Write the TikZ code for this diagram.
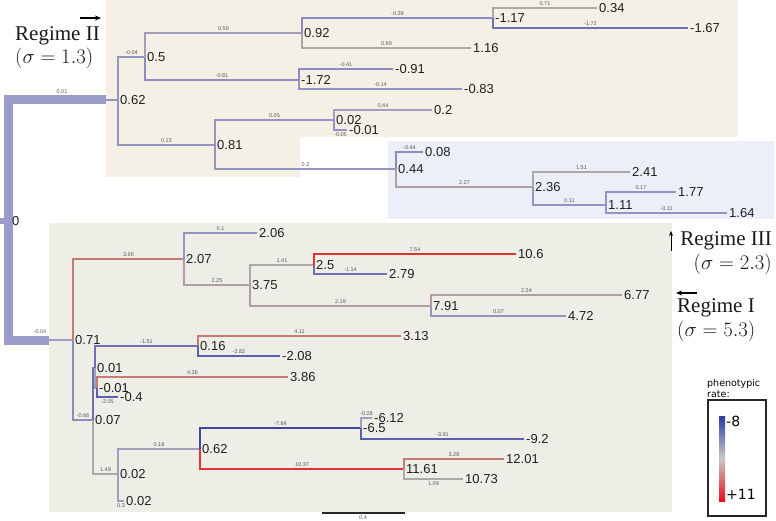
\documentclass[tikz,border=0pt]{standalone}
\usepackage[no-math]{fontspec}
\setmainfont{Liberation Sans}
\newfontfamily\regfont{Liberation Serif}
\newfontfamily\legfont{DejaVu Sans}
\usetikzlibrary{arrows.meta}
\definecolor{bgII}{HTML}{F4F0E6}
\definecolor{bgIII}{HTML}{ECEFF8}
\definecolor{bgI}{HTML}{EEEEE6}
\definecolor{rootc}{HTML}{9C9CCA}
\definecolor{dblue}{HTML}{3E48A0}
\definecolor{mblue}{HTML}{5A60AE}
\definecolor{blue2}{HTML}{6E70B6}
\definecolor{lav}{HTML}{8C8CC0}
\definecolor{lav2}{HTML}{9494C2}
\definecolor{lavg}{HTML}{A09EBE}
\definecolor{greyc}{HTML}{AAA8A9}
\definecolor{rgrey}{HTML}{B29E9E}
\definecolor{rosy}{HTML}{C27C74}
\definecolor{redc}{HTML}{DE3530}
\definecolor{cbblue}{HTML}{2B3DA0}
\definecolor{cbgrey}{HTML}{C8C8C8}
\definecolor{cbred}{HTML}{E8101E}
\tikzset{
  br/.style={line width=2.8pt, line cap=butt, line join=miter},
  elbase/.style={font=\fontsize{5.5}{6}\selectfont, text=black!65, inner sep=0.8pt},
  el/.style={elbase, pos=0.75},
  nl/.style={font=\fontsize{13}{13}\selectfont, text=black!88, anchor=west, inner sep=0pt},
  reg/.style={font=\regfont\fontsize{21}{21}\selectfont, text=black!90, inner sep=0pt},
  regarrow/.style={-{Stealth[length=6pt,width=5pt]}, line width=1.8pt},
}
\newcommand\edge[5]{\draw[br,#3] (#1) |- node[el,#5]{#4} (#2);}
\begin{document}
\begin{tikzpicture}[x=1pt,y=-1pt]
\useasboundingbox (0,0) rectangle (776,521);
% regime backgrounds
\fill[bgII] (106,0) -- (738,0) -- (738,137) -- (300,137) -- (300,177) -- (106,177) -- cycle;
\fill[bgIII] (388,141) rectangle (774,219);
\fill[bgI] (49,223) rectangle (672,512);
% coordinates
\coordinate (root) at (8.5,221);
\coordinate (rtA) at (106,100);
\coordinate (rtB) at (49,340);
\coordinate (a062) at (118,100);
\coordinate (a05) at (145,57);
\coordinate (a092) at (302,33);
\coordinate (a117) at (493,18);
\coordinate (L034) at (597,8);
\coordinate (L167) at (688,28);
\coordinate (L116) at (471,48);
\coordinate (a172) at (299,80);
\coordinate (L091) at (393,69);
\coordinate (L083) at (462,89);
\coordinate (a081) at (215,145);
\coordinate (a002) at (334,120);
\coordinate (L02) at (432,110);
\coordinate (L001) at (347,130);
\coordinate (a044) at (396,169);
\coordinate (L008) at (423,152);
\coordinate (a236) at (533,187);
\coordinate (L241) at (630,172);
\coordinate (a111) at (606,205);
\coordinate (L177) at (676,192);
\coordinate (L164) at (727,213);
\coordinate (b071) at (73,340);
\coordinate (b207) at (184,259);
\coordinate (L206) at (257,233);
\coordinate (b375) at (250,285);
\coordinate (b25) at (314,265);
\coordinate (L106) at (516,254);
\coordinate (L279) at (387,274);
\coordinate (b791) at (431,306);
\coordinate (L677) at (622,295);
\coordinate (L472) at (566,316);
\coordinate (b007) at (93,420);
\coordinate (b001) at (95,368);
\coordinate (b016) at (198,346);
\coordinate (L313) at (401,336);
\coordinate (L208) at (280,356);
\coordinate (bm001) at (97,388);
\coordinate (L386) at (288,377);
\coordinate (L04) at (118,397);
\coordinate (b002) at (118,474);
\coordinate (b062) at (200,449);
\coordinate (b65) at (361,428);
\coordinate (L612) at (372,418);
\coordinate (L92) at (524,439);
\coordinate (b1161) at (404,469);
\coordinate (L1201) at (504,459);
\coordinate (L1073) at (463,479);
\coordinate (L002) at (124,501);
% root
\draw[line width=6pt, rootc] (0,221) -- (root);
\draw[line width=9pt, rootc, line join=miter] (rtA) -- (root |- rtA) -- (root |- rtB) -- (rtB);
\draw[br, lav2] (rtA) -- (a062);
\draw[br, lavg] (rtB) -- (b071);
\node[elbase, anchor=south] at (62,95) {0.01};
\node[elbase, anchor=south] at (40,335) {-0.04};
% top clade
\edge{a062}{a05}{lav2}{-0.04}{above}
\edge{a05}{a092}{lavg}{0.59}{above}
\edge{a092}{a117}{lav}{-0.39}{above}
\edge{a117}{L034}{greyc}{0.71}{above}
\edge{a117}{L167}{blue2}{-1.72}{above}
\edge{a092}{L116}{greyc}{0.99}{above}
\edge{a05}{a172}{lav}{-0.81}{above}
\edge{a172}{L091}{lav}{-0.41}{above}
\edge{a172}{L083}{lav2}{-0.14}{above}
\edge{a062}{a081}{lav2}{0.15}{above}
\edge{a081}{a002}{lav2}{0.05}{above}
\edge{a002}{L02}{lavg}{0.44}{above}
\edge{a002}{L001}{lav2}{-0.05}{below}
\edge{a081}{a044}{lav2}{0.2}{above}
\edge{a044}{L008}{lav}{-0.44}{above}
\edge{a044}{a236}{rgrey}{2.27}{above}
\edge{a236}{L241}{greyc}{1.51}{above}
\edge{a236}{a111}{lav2}{0.11}{above}
\edge{a111}{L177}{lav2}{0.17}{above}
\edge{a111}{L164}{lav2}{-0.11}{above}
% bottom clade
\edge{b071}{b207}{rosy}{3.95}{above}
\edge{b207}{L206}{lav2}{0.1}{above}
\edge{b207}{b375}{rgrey}{2.25}{above}
\edge{b375}{b25}{greyc}{1.41}{above}
\edge{b25}{L106}{redc}{7.54}{above}
\edge{b25}{L279}{blue2}{-1.14}{above}
\edge{b375}{b791}{rgrey}{2.19}{above}
\edge{b791}{L677}{rgrey}{2.24}{above}
\edge{b791}{L472}{lav2}{0.07}{above}
\edge{b071}{b007}{lav}{-0.66}{above}
\draw[br, blue2] (b007) |- (b001);
\edge{b001}{b016}{blue2}{-1.51}{above}
\edge{b016}{L313}{rosy}{4.11}{above}
\edge{b016}{L208}{mblue}{-2.82}{above}
\draw[br, lavg] (b001) |- (bm001);
\edge{bm001}{L386}{rosy}{4.36}{above}
\edge{bm001}{L04}{mblue}{-2.05}{below}
\edge{b007}{b002}{greyc}{1.49}{above}
\edge{b002}{b062}{lavg}{0.18}{above}
\edge{b002}{L002}{lavg}{0.3}{below}
\edge{b062}{b65}{dblue}{-7.84}{above}
\edge{b65}{L612}{lavg}{-0.28}{above}
\edge{b65}{L92}{mblue}{-3.91}{above}
\edge{b062}{b1161}{redc}{10.37}{above}
\edge{b1161}{L1201}{rosy}{3.28}{above}
\edge{b1161}{L1073}{greyc}{1.09}{below}
% node labels
\node[nl] at (12,221) {0};
\foreach \c/\t in {a062/0.62,a05/0.5,a092/0.92,a117/-1.17,a172/-1.72,a081/0.81,a002/0.02,a044/0.44,a236/2.36,a111/1.11,
  b071/0.71,b207/2.07,b375/3.75,b25/2.5,b791/7.91,b007/0.07,b001/0.01,b016/0.16,bm001/-0.01,b002/0.02,b062/0.62,b65/-6.5,b1161/11.61}
  \node[nl, xshift=2pt] at (\c) {\t};
\foreach \c/\t in {L034/0.34,L167/-1.67,L116/1.16,L091/-0.91,L083/-0.83,L02/0.2,L001/-0.01,L008/0.08,L241/2.41,L177/1.77,L164/1.64,
  L206/2.06,L106/10.6,L279/2.79,L677/6.77,L472/4.72,L313/3.13,L208/-2.08,L386/3.86,L04/-0.4,L612/-6.12,L92/-9.2,L1201/12.01,L1073/10.73,L002/0.02}
  \node[nl, xshift=2pt] at (\c) {\t};
% scale bar
\coordinate (sb1) at (322,513);
\coordinate (sb2) at (405,513);
\draw[line width=1.6pt, black!85] (sb1) -- (sb2);
\node[elbase, anchor=north] at (363,515) {0.4};
% regime labels
\coordinate (ar2a) at (80,18); \coordinate (ar2b) at (101,18);
\draw[regarrow] (ar2a) -- (ar2b);
\node[reg, anchor=west] at (15,36) {Regime II};
\node[reg, anchor=west] at (15,58) {$(\sigma = 1.3)$};
\coordinate (ar3a) at (671,251); \coordinate (ar3b) at (671,231);
\draw[-{Stealth[length=5pt,width=4pt]}, line width=1pt] (ar3a) -- (ar3b);
\node[reg, anchor=east] at (772,241) {Regime III};
\node[reg, anchor=east] at (772,264) {$(\sigma = 2.3)$};
\coordinate (ar1a) at (697,293); \coordinate (ar1b) at (676,293);
\draw[regarrow] (ar1a) -- (ar1b);
\node[reg, anchor=west] at (677,308) {Regime I};
\node[reg, anchor=west] at (677,331) {$(\sigma = 5.3)$};
% legend
\node[font=\legfont\fontsize{9.5}{11}\selectfont, anchor=south west, align=left, inner sep=0pt] at (707,398) {phenotypic\\rate:};
\draw[line width=1.1pt, black!85] (708,400) rectangle (766,516);
\shade[top color=cbblue, bottom color=cbred, middle color=cbgrey] (719,416) rectangle (725,501);
\node[font=\legfont\fontsize{14}{14}\selectfont, anchor=west, inner sep=0pt] at (726,421) {-8};
\node[font=\legfont\fontsize{14}{14}\selectfont, anchor=west, inner sep=0pt] at (726,494) {+11};
\end{tikzpicture}
\end{document}
